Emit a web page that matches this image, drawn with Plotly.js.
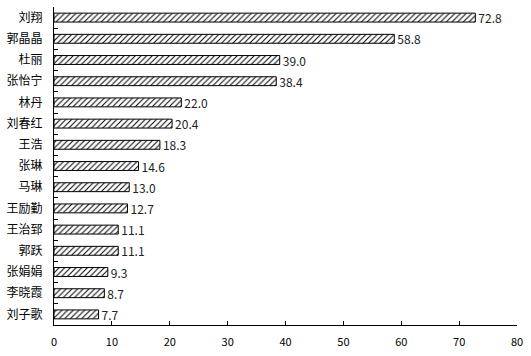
<!DOCTYPE html>
<html>
<head>
<meta charset="utf-8">
<script src="https://cdn.plot.ly/plotly-3.0.1.min.js"></script>
<style>html,body{margin:0;padding:0;background:#fff;}#chart{width:531px;height:356px;}</style>
</head>
<body>
<div id="chart"></div>
<script>
const names = ["刘翔","郭晶晶","杜丽","张怡宁","林丹","刘春红","王浩","张琳","马琳","王励勤","王治郅","郭跃","张娟娟","李晓霞","刘子歌"];
const values = [72.8, 58.8, 39.0, 38.4, 22.0, 20.4, 18.3, 14.6, 13.0, 12.7, 11.1, 11.1, 9.3, 8.7, 7.7];
const xTicks = [0, 10, 20, 30, 40, 50, 60, 70, 80];

const font = "'Noto Sans CJK SC', 'Noto Sans', sans-serif";
const trace = {
  type: 'bar',
  orientation: 'h',
  y: names,
  x: values,
  width: 0.42,
  marker: {
    color: '#ffffff',
    line: {color: '#000000', width: 1},
    pattern: {shape: '/', fgcolor: '#000000', bgcolor: '#ffffff', size: 4, solidity: 0.25}
  },
  texttemplate: '%{x:.1f}',
  textposition: 'outside',
  constraintext: 'none',
  textfont: {family: font, size: 12, color: '#222'},
  cliponaxis: false,
  hoverinfo: 'none'
};
const layout = {
  width: 531, height: 356,
  margin: {l: 54, r: 14, t: 7, b: 31},
  paper_bgcolor: '#fff', plot_bgcolor: '#fff',
  showlegend: false,
  font: {family: font, size: 12, color: '#000'},
  xaxis: {
    range: [0, 80], tickvals: xTicks, ticktext: xTicks.map(String),
    showgrid: false, zeroline: false, showline: true, linecolor: '#000', linewidth: 1,
    ticks: 'inside', ticklen: 4, tickcolor: '#000', ticklabelstandoff: 7,
    tickfont: {family: font, size: 11, color: '#000'}, fixedrange: true
  },
  yaxis: {
    type: 'category', autorange: 'reversed',
    showgrid: false, zeroline: false, showline: true, linecolor: '#000', linewidth: 1,
    ticks: 'inside', ticklen: 4, tickcolor: '#000', tickson: 'boundaries',
    ticklabelstandoff: 8,
    tickfont: {family: font, size: 12, color: '#000'}, fixedrange: true
  }
};
Plotly.newPlot('chart', [trace], layout, {staticPlot: true, displayModeBar: false});
</script>
</body>
</html>
